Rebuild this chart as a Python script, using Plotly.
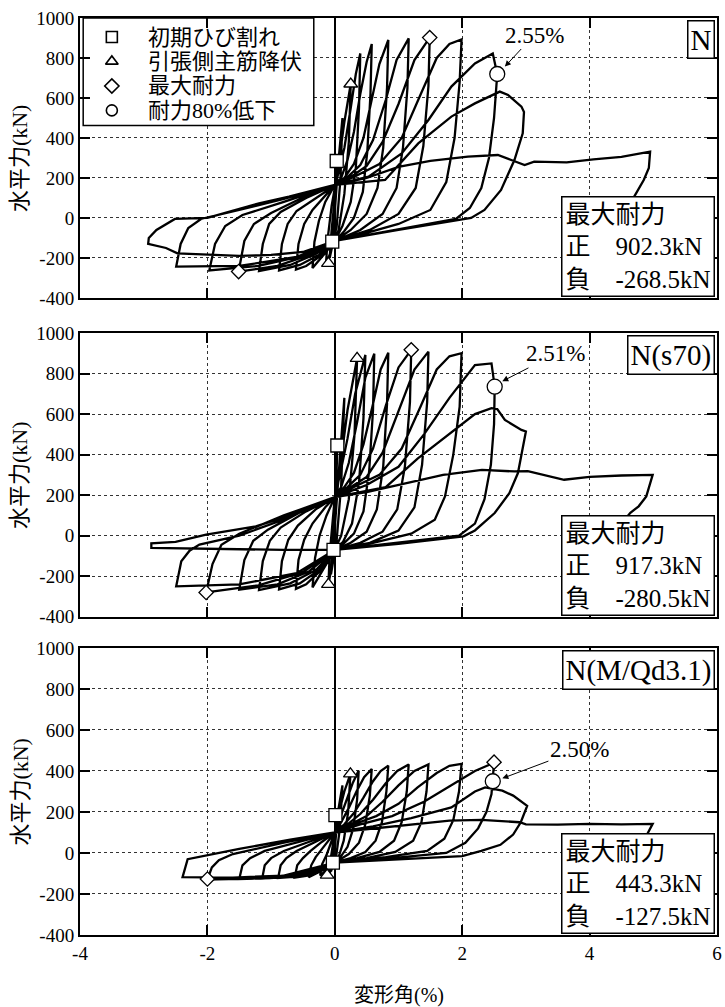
import plotly.graph_objects as go

FONT = "Liberation Serif, Times New Roman, Noto Sans CJK JP, serif"

# ---------------- data (drift angle %, horizontal force kN) ----------------
N_curve = [
    (0, 0),
    (0.03, 285), (0.0, 60), (-0.04, -118), (0.0, 30),
    (0.05, 260), (0.12, 500), (0.09, 200), (0.03, -40), (-0.08, -200), (-0.05, -60), (0.0, 100),
    (0.05, 250), (0.15, 480), (0.25, 670), (0.22, 380), (0.15, 120), (0.06, -60), (0.0, -115),
    (-0.14, -235), (-0.11, -100), (-0.05, 60), (0.0, 150),
    (0.05, 220), (0.15, 350), (0.25, 550), (0.33, 720), (0.40, 823), (0.38, 550), (0.33, 250),
    (0.25, 80), (0.12, -40), (0.0, -115), (-0.15, -175), (-0.35, -250), (-0.32, -120),
    (-0.25, -15), (-0.15, 80), (0.0, 165),
    (0.1, 200), (0.2, 290), (0.3, 430), (0.4, 620), (0.5, 780), (0.58, 870), (0.56, 620),
    (0.51, 330), (0.44, 130), (0.3, 0), (0.15, -65), (0.0, -115), (-0.2, -185), (-0.45, -240),
    (-0.61, -258), (-0.57, -130), (-0.48, -30), (-0.35, 40), (-0.15, 110), (0.0, 165),
    (0.15, 200), (0.3, 270), (0.45, 400), (0.58, 590), (0.7, 770), (0.84, 890), (0.82, 650),
    (0.76, 350), (0.67, 150), (0.5, 20), (0.25, -60), (0.0, -115), (-0.25, -185), (-0.55, -235),
    (-0.875, -262), (-0.83, -130), (-0.74, -30), (-0.6, 35), (-0.3, 100), (0.0, 165),
    (0.2, 205), (0.4, 265), (0.6, 390), (0.8, 590), (0.97, 790), (1.16, 898), (1.14, 650),
    (1.07, 350), (0.97, 150), (0.75, 20), (0.4, -60), (0.0, -115), (-0.3, -180), (-0.7, -235),
    (-1.19, -265), (-1.13, -130), (-1.03, -30), (-0.85, 30), (-0.45, 100), (0.0, 165),
    (0.25, 205), (0.5, 260), (0.75, 380), (1.0, 570), (1.25, 790), (1.49, 902), (1.47, 660),
    (1.39, 360), (1.27, 150), (1.0, 20), (0.55, -60), (0.0, -115), (-0.4, -185), (-0.9, -240),
    (-1.51, -268), (-1.42, -115), (-1.27, -30), (-1.0, 25), (-0.55, 95), (0.0, 165),
    (0.3, 205), (0.7, 270), (1.05, 400), (1.35, 620), (1.6, 800), (1.8, 870), (1.99, 893),
    (1.96, 680), (1.88, 400), (1.75, 180), (1.5, 40), (1.0, -30), (0.5, -75), (0.0, -115),
    (-0.5, -190), (-1.2, -240), (-1.97, -262), (-1.88, -130), (-1.72, -40), (-1.45, 15),
    (-0.8, 80), (0.0, 165),
    (0.53, 207), (1.05, 323), (1.47, 490), (1.83, 657), (2.2, 773), (2.48, 823), (2.52, 760),
    (2.55, 720), (2.5, 500), (2.42, 300), (2.3, 150), (2.12, 50), (1.9, -5), (1.2, -45),
    (0.6, -80), (0.0, -115), (-0.6, -195), (-1.5, -240), (-2.49, -243), (-2.42, -130),
    (-2.3, -50), (-2.1, -5), (-1.5, 40), (-0.8, 95), (0.0, 165),
    (0.79, 190), (1.31, 373), (1.83, 507), (2.2, 573), (2.46, 615), (2.59, 632), (2.72, 615),
    (2.93, 557), (2.97, 530), (2.95, 423), (2.82, 290), (2.61, 140), (2.35, 40), (2.14, 0),
    (1.0, -60), (0.0, -115), (-0.5, -170), (-1.0, -185), (-1.5, -190), (-2.0, -185),
    (-2.47, -177), (-2.65, -150), (-2.93, -130), (-2.92, -100), (-2.8, -60), (-2.51, -5),
    (-2.0, 0), (-1.19, 73), (-0.72, 107), (0.0, 165),
    (0.5, 200), (1.0, 255), (1.5, 285), (2.09, 307), (2.56, 315), (2.77, 290), (2.98, 265),
    (3.13, 282), (3.64, 278), (4.06, 293), (4.5, 305), (4.95, 332), (4.93, 250), (4.85, 190),
    (4.7, 107), (4.55, 40), (4.4, -20),
]

S70_curve = [
    (0, 0),
    (0.04, 448), (0.0, 100), (-0.02, -70), (0.0, 40),
    (0.06, 300), (0.15, 680), (0.1, 250), (0.03, -20), (-0.06, -190), (-0.03, -40), (0.0, 120),
    (0.08, 330), (0.2, 620), (0.35, 875), (0.31, 500), (0.22, 180), (0.1, 0), (0.0, -70),
    (-0.1, -240), (-0.08, -90), (-0.04, 60), (0.0, 190),
    (0.08, 300), (0.2, 480), (0.32, 700), (0.48, 892), (0.45, 580), (0.38, 260), (0.27, 60),
    (0.13, -30), (0.0, -70), (-0.15, -150), (-0.35, -255), (-0.31, -110), (-0.24, 0),
    (-0.13, 100), (0.0, 190),
    (0.1, 240), (0.22, 360), (0.35, 560), (0.48, 780), (0.62, 898), (0.6, 620), (0.54, 320),
    (0.45, 120), (0.3, 10), (0.15, -35), (0.0, -70), (-0.2, -165), (-0.45, -240), (-0.61, -262),
    (-0.57, -120), (-0.48, -20), (-0.35, 60), (-0.15, 140), (0.0, 190),
    (0.15, 240), (0.3, 310), (0.45, 450), (0.6, 650), (0.72, 820), (0.84, 903), (0.82, 650),
    (0.76, 340), (0.66, 130), (0.5, 20), (0.25, -35), (0.0, -70), (-0.25, -170), (-0.55, -235),
    (-0.875, -265), (-0.83, -125), (-0.73, -20), (-0.58, 50), (-0.3, 130), (0.0, 190),
    (0.2, 240), (0.4, 300), (0.6, 430), (0.8, 640), (1.0, 830), (1.2, 917), (1.18, 660),
    (1.1, 340), (0.98, 130), (0.75, 20), (0.4, -35), (0.0, -70), (-0.3, -170), (-0.7, -235),
    (-1.19, -268), (-1.13, -125), (-1.02, -25), (-0.85, 40), (-0.45, 120), (0.0, 190),
    (0.25, 240), (0.5, 290), (0.75, 410), (1.0, 610), (1.25, 820), (1.47, 908), (1.45, 660),
    (1.37, 350), (1.25, 140), (1.0, 25), (0.55, -35), (0.0, -70), (-0.4, -175), (-0.9, -240),
    (-1.5, -266), (-1.42, -120), (-1.28, -25), (-1.05, 30), (-0.55, 115), (0.0, 190),
    (0.3, 240), (0.7, 300), (1.05, 430), (1.35, 640), (1.6, 820), (1.8, 885), (1.99, 900),
    (1.96, 637), (1.86, 400), (1.73, 194), (1.57, 79), (1.2, 10), (0.6, -35), (0.0, -70),
    (-0.5, -180), (-1.2, -245), (-2.02, -280), (-1.92, -140), (-1.78, -45), (-1.5, 10),
    (-0.8, 100), (0.0, 190),
    (0.5, 250), (1.0, 340), (1.4, 500), (1.8, 680), (2.2, 842), (2.46, 850), (2.51, 735),
    (2.5, 550), (2.45, 350), (2.35, 180), (2.2, 60), (1.95, 0), (1.0, -35), (0.0, -70),
    (-0.6, -185), (-1.5, -240), (-2.49, -250), (-2.41, -126), (-2.28, -74), (-2.125, -44),
    (-1.5, 0), (-0.8, 80), (0.0, 190),
    (0.8, 240), (1.3, 380), (1.8, 500), (2.2, 600), (2.46, 629), (2.55, 625), (2.67, 571),
    (2.93, 522), (3.0, 514), (2.95, 424), (2.875, 309), (2.74, 210), (2.51, 112), (2.2, 26),
    (2.02, -3), (1.0, -40), (0.0, -70), (-0.8, -70), (-1.6, -65), (-2.3, -62), (-2.88, -60),
    (-2.88, -38), (-2.5, -30), (-2.02, 5), (-1.24, 46), (-0.6, 110), (0.0, 190),
    (0.5, 215), (1.0, 250), (1.7, 300), (2.31, 325), (2.82, 317), (3.03, 318), (3.4, 292),
    (3.6, 276), (4.0, 290), (4.5, 297), (4.99, 300), (4.89, 194), (4.77, 145), (4.64, 113),
    (4.5, 60),
]

M31_curve = [
    (0, 0),
    (0.01, 181), (0.0, 40), (-0.03, -47), (0.0, 20),
    (0.05, 200), (0.12, 330), (0.08, 120), (0.02, -20), (-0.06, -90), (-0.03, -20), (0.0, 70),
    (0.06, 190), (0.15, 300), (0.245, 386), (0.21, 200), (0.14, 60), (0.06, -20), (0.0, -47),
    (-0.09, -103), (-0.07, -40), (-0.03, 40), (0.0, 100),
    (0.07, 160), (0.17, 250), (0.28, 340), (0.375, 402), (0.35, 260), (0.29, 120), (0.2, 30),
    (0.1, -15), (0.0, -47), (-0.12, -80), (-0.23, -110), (-0.2, -55), (-0.13, -10),
    (-0.06, 50), (0.0, 100),
    (0.1, 150), (0.22, 220), (0.34, 300), (0.46, 370), (0.58, 410), (0.55, 280), (0.48, 140),
    (0.38, 50), (0.22, -5), (0.1, -30), (0.0, -47), (-0.2, -85), (-0.41, -118), (-0.37, -60),
    (-0.3, -20), (-0.2, 20), (-0.08, 70), (0.0, 100),
    (0.15, 140), (0.3, 195), (0.45, 270), (0.6, 350), (0.72, 400), (0.84, 426), (0.81, 300),
    (0.74, 150), (0.64, 60), (0.48, 5), (0.25, -25), (0.0, -47), (-0.25, -90), (-0.45, -112),
    (-0.63, -120), (-0.59, -60), (-0.5, -25), (-0.38, 10), (-0.2, 55), (0.0, 100),
    (0.2, 140), (0.4, 190), (0.6, 260), (0.8, 340), (0.98, 400), (1.16, 432), (1.13, 300),
    (1.05, 150), (0.93, 60), (0.7, 5), (0.35, -25), (0.0, -47), (-0.3, -90), (-0.6, -115),
    (-0.89, -122), (-0.85, -60), (-0.76, -25), (-0.6, 10), (-0.3, 55), (0.0, 100),
    (0.25, 140), (0.5, 180), (0.75, 250), (1.0, 330), (1.25, 400), (1.47, 432), (1.44, 300),
    (1.36, 150), (1.23, 60), (0.95, 5), (0.5, -25), (0.0, -47), (-0.35, -95), (-0.75, -118),
    (-1.14, -125), (-1.1, -60), (-1.0, -25), (-0.8, 10), (-0.4, 55), (0.0, 100),
    (0.3, 140), (0.65, 180), (1.0, 240), (1.3, 320), (1.6, 390), (1.8, 425), (1.99, 435),
    (1.95, 300), (1.86, 160), (1.72, 70), (1.45, 10), (0.8, -20), (0.0, -47), (-0.45, -100),
    (-1.0, -122), (-1.5, -127), (-1.45, -60), (-1.33, -25), (-1.1, 10), (-0.55, 55), (0.0, 100),
    (0.4, 140), (0.9, 180), (1.4, 250), (1.83, 330), (2.2, 400), (2.5, 440), (2.48, 350),
    (2.46, 287), (2.38, 200), (2.25, 120), (2.05, 50), (1.75, 0), (0.9, -25), (0.0, -47),
    (-0.6, -105), (-1.3, -125), (-2.0, -130), (-1.93, -70), (-1.82, -35), (-1.6, -5),
    (-0.8, 50), (0.0, 100),
    (0.6, 130), (1.2, 170), (1.83, 222), (2.2, 300), (2.36, 320), (2.63, 304), (2.8, 280),
    (3.02, 230), (2.92, 150), (2.8, 90), (2.6, 40), (2.3, 10), (2.0, -15), (1.0, -30),
    (0.0, -47), (-0.8, -110), (-1.6, -120), (-2.39, -118), (-2.35, -70), (-2.31, -30),
    (-1.5, 20), (-0.7, 65), (0.0, 100),
    (0.6, 120), (1.2, 140), (1.8, 158), (2.3, 162), (2.56, 157), (2.9, 150), (3.0, 140),
    (3.5, 138), (4.0, 142), (4.5, 140), (4.99, 142), (4.93, 108), (4.85, 60), (4.75, 20),
]

curves = [N_curve, S70_curve, M31_curve]
panel_names = ["N", "N(s70)", "N(M/Qd3.1)"]
max_pos = ["902.3kN", "917.3kN", "443.3kN"]
max_neg = ["-268.5kN", "-280.5kN", "-127.5kN"]

# event markers per panel: (x list, y list)
crack_pts = [([0.03, -0.04], [285, -118]), ([0.04, -0.02], [445, -70]), ([0.01, -0.03], [185, -47])]
yield_pts = [([0.25, -0.10], [670, -227]), ([0.35, -0.10], [875, -240]), ([0.245, -0.12], [386, -108])]
maxf_pts = [([1.49, -1.51], [902, -268]), ([1.20, -2.02], [917, -280]), ([2.50, -2.00], [443, -127])]
drop_pts = [([2.55], [720]), ([2.51], [735]), ([2.48], [350])]

drop_labels = ["2.55%", "2.51%", "2.50%"]
drop_text_pos = [(3.13, 915), (3.47, 897), (3.84, 505)]
drop_arrow_head = [(2.67, 757), (2.63, 762), (2.63, 364)]

legend_labels = ["初期ひび割れ", "引張側主筋降伏", "最大耐力", "耐力80%低下"]
legend_symbols = ["square-open", "triangle-up-open", "diamond-open", "circle-open"]
legend_y = [905, 783, 660, 538]

x_ticks = [-4, -2, 0, 2, 4, 6]
y_ticks = [-400, -200, 0, 200, 400, 600, 800, 1000]

x_title = "変形角(%)"
y_title = "水平力(kN)"

# ---------------- figure ----------------
fig = go.Figure()
domains = [[0.6947, 1.0], [0.347, 0.6565], [0.0, 0.313]]
sym_sizes = {"square": 13, "triangle-up": 12, "diamond": 11, "circle": 15}

for i, curve in enumerate(curves):
    xa = "x" if i == 0 else f"x{i+1}"
    ya = "y" if i == 0 else f"y{i+1}"
    fig.add_trace(go.Scatter(
        x=[p[0] for p in curve], y=[p[1] for p in curve], mode="lines",
        line=dict(color="black", width=2.3), xaxis=xa, yaxis=ya, showlegend=False,
        hoverinfo="skip"))
    for pts, sym in [(crack_pts[i], "square"), (yield_pts[i], "triangle-up"),
                     (maxf_pts[i], "diamond"), (drop_pts[i], "circle")]:
        fig.add_trace(go.Scatter(
            x=pts[0], y=pts[1], mode="markers",
            marker=dict(symbol=sym, size=sym_sizes[sym], color="white",
                        line=dict(color="black", width=1.3)),
            xaxis=xa, yaxis=ya, showlegend=False, hoverinfo="skip"))

# legend (panel 1)
for lab, sym, ly in zip(legend_labels, legend_symbols, legend_y):
    fig.add_trace(go.Scatter(
        x=[-3.5], y=[ly], mode="markers",
        marker=dict(symbol=sym, size=11, color="black", line=dict(color="black", width=1.6)),
        xaxis="x", yaxis="y", showlegend=False, hoverinfo="skip"))

shapes = [dict(type="rect", xref="x", yref="y", x0=-3.95, x1=-0.33, y0=462, y1=1000,
               line=dict(color="black", width=1.5), fillcolor="white", layer="between")]

annotations = []
for lab, ly in zip(legend_labels, legend_y):
    annotations.append(dict(x=-2.97, y=ly, xref="x", yref="y", text=lab, showarrow=False,
                            xanchor="left", yanchor="middle",
                            font=dict(family=FONT, size=22, color="black")))

for i in range(3):
    xa = "x" if i == 0 else f"x{i+1}"
    ya = "y" if i == 0 else f"y{i+1}"
    # panel name box
    annotations.append(dict(x=1, y=1, xref=f"{xa} domain", yref=f"{ya} domain",
                            text=panel_names[i], showarrow=False, xanchor="right",
                            yanchor="top", xshift=-2, yshift=-2,
                            font=dict(family=FONT, size=29, color="black"),
                            bgcolor="white", bordercolor="black", borderwidth=1.5,
                            borderpad=2))
    # max strength box
    annotations.append(dict(x=1, y=0, xref=f"{xa} domain", yref=f"{ya} domain",
                            text=f"最大耐力<br>正\u3000{max_pos[i]}<br>負\u3000{max_neg[i]}",
                            showarrow=False, xanchor="right", yanchor="bottom", align="left",
                            xshift=-2, yshift=1,
                            font=dict(family=FONT, size=25, color="black"),
                            bgcolor="white", bordercolor="black", borderwidth=1.5,
                            borderpad=3))
    # 80% drop label with arrow
    annotations.append(dict(x=drop_arrow_head[i][0], y=drop_arrow_head[i][1], xref=xa, yref=ya,
                            ax=drop_text_pos[i][0], ay=drop_text_pos[i][1], axref=xa, ayref=ya,
                            text=drop_labels[i], showarrow=True, arrowhead=2, arrowsize=1.2,
                            arrowwidth=1, arrowcolor="black",
                            font=dict(family=FONT, size=23, color="black")))
    # y-axis title
    annotations.append(dict(x=-0.094, y=sum(domains[i]) / 2, xref="paper", yref="paper",
                            text=y_title, showarrow=False, textangle=-90,
                            xanchor="center", yanchor="middle",
                            font=dict(family=FONT, size=22, color="black")))

# x-axis title
annotations.append(dict(x=0.5, y=-0.0665, xref="paper", yref="paper", text=x_title,
                        showarrow=False, xanchor="center", yanchor="middle",
                        font=dict(family=FONT, size=20, color="black")))

fig.update_layout(shapes=shapes, annotations=annotations)

axis_common = dict(showline=True, linecolor="black", linewidth=2, mirror="ticks",
                   ticks="inside", ticklen=10, tickwidth=1.5, tickcolor="black",
                   showgrid=True, gridcolor="#333333", griddash="dot", gridwidth=1,
                   automargin=False,
                   tickfont=dict(family=FONT, size=19, color="black"))

layout_axes = {}
for i in range(3):
    xk = "xaxis" if i == 0 else f"xaxis{i+1}"
    yk = "yaxis" if i == 0 else f"yaxis{i+1}"
    xa = "x" if i == 0 else f"x{i+1}"
    ya = "y" if i == 0 else f"y{i+1}"
    xd = dict(axis_common)
    xd.update(range=[-4, 6], domain=[0, 1], anchor=ya, tickmode="array", tickvals=x_ticks,
              ticktext=[str(v) for v in x_ticks] if i == 2 else [""] * len(x_ticks),
              zeroline=True, zerolinecolor="black", zerolinewidth=1.6)
    yd = dict(axis_common)
    yd.update(range=[-400, 1000], domain=domains[i], anchor=xa, tickmode="array",
              tickvals=y_ticks, ticktext=[str(v) for v in y_ticks], zeroline=False)
    layout_axes[xk] = xd
    layout_axes[yk] = yd

fig.update_layout(**layout_axes)
fig.update_layout(width=725, height=1007, margin=dict(l=80, r=8, t=18, b=72),
                  plot_bgcolor="white", paper_bgcolor="white", showlegend=False,
                  font=dict(family=FONT, color="black"))

fig.write_html("out.html", config={"displayModeBar": False},
               post_script="document.body.style.margin='0px';"
                           "document.body.style.overflow='hidden';")
